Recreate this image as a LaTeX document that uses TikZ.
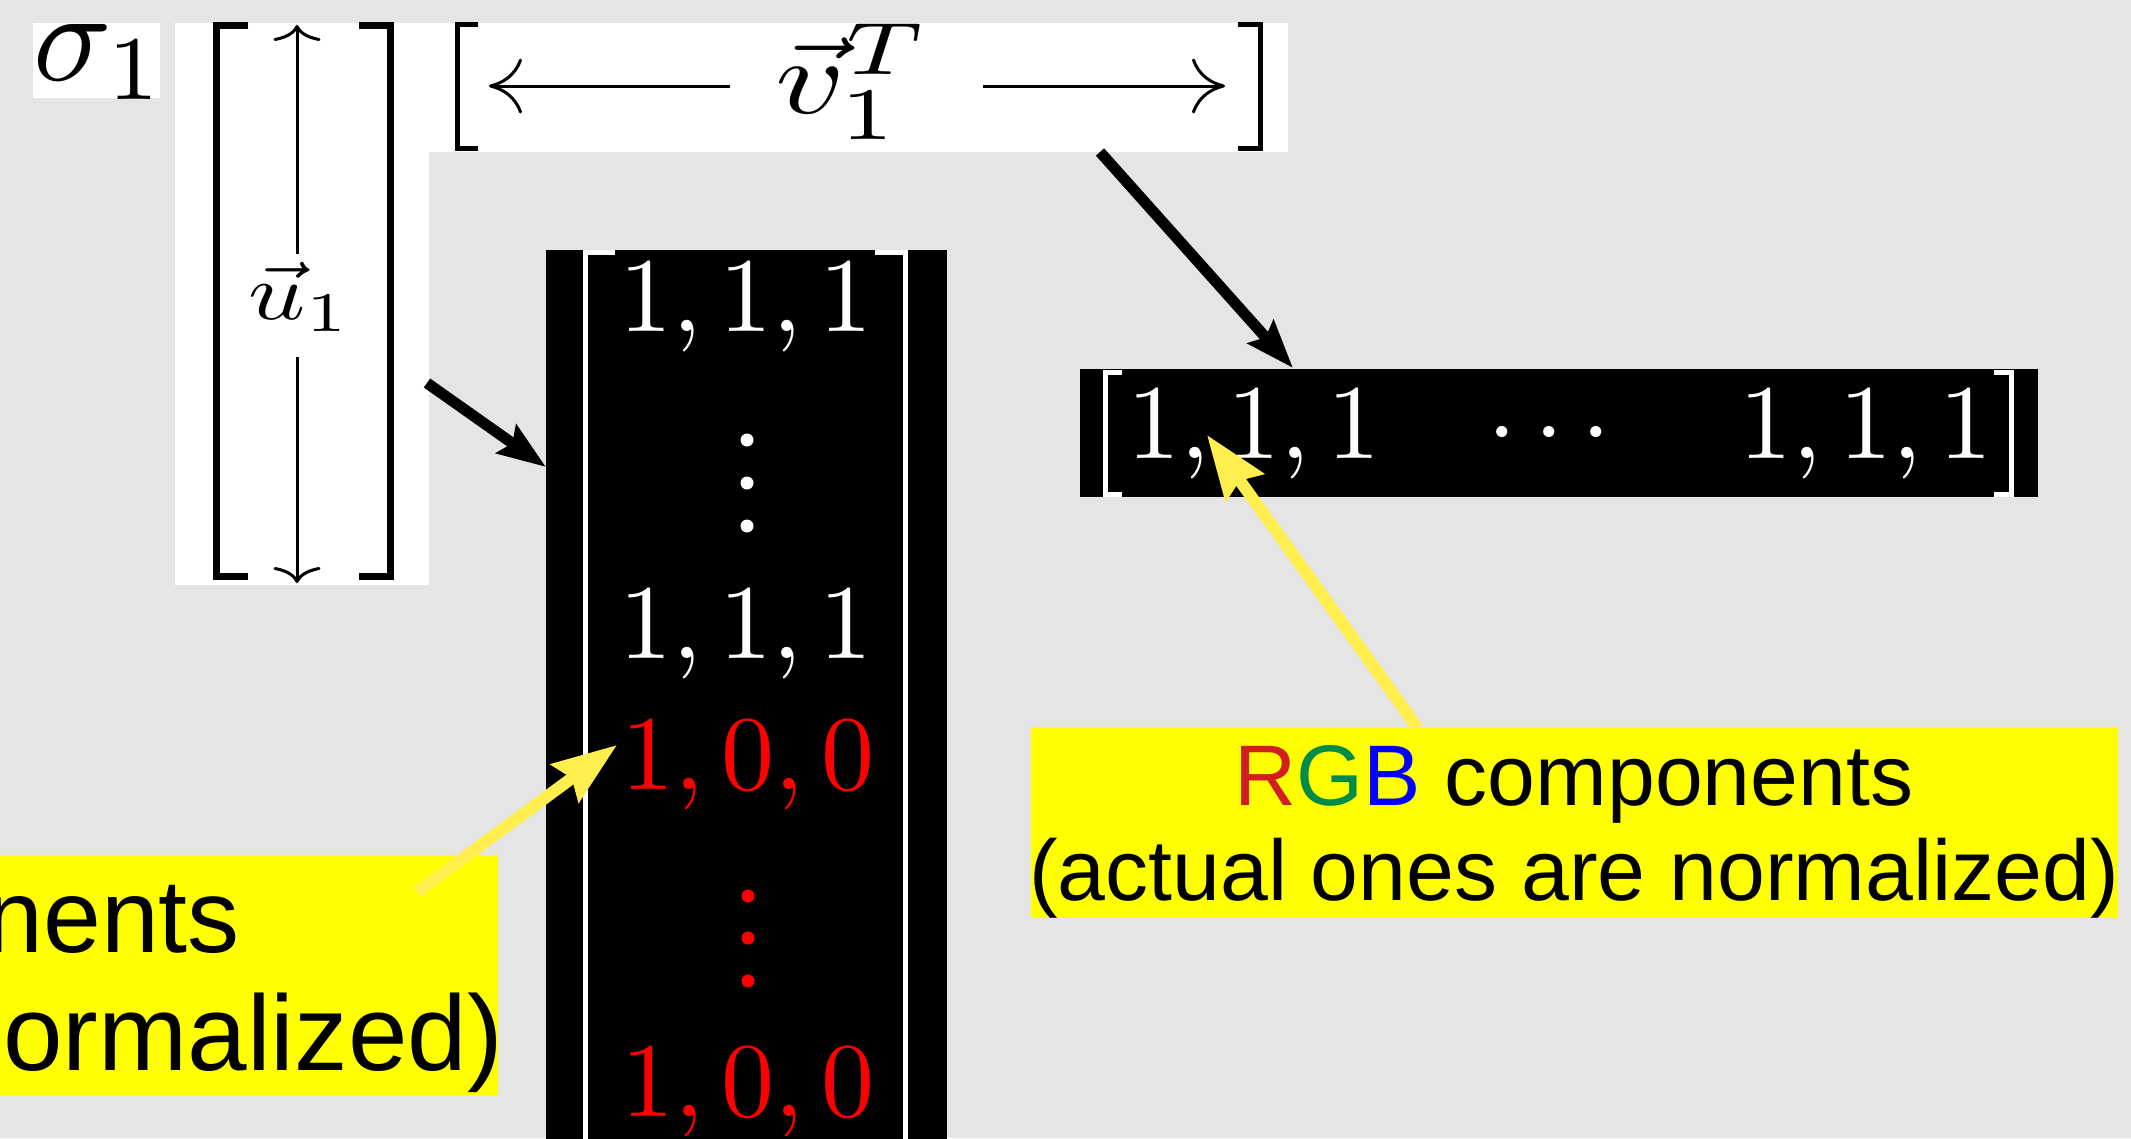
\documentclass[tikz,border=0pt]{standalone}
\usepackage{fontspec}
\newfontfamily\labelfont{Liberation Sans}
\usetikzlibrary{arrows.meta}
\definecolor{bg}{RGB}{229,229,229}
\definecolor{arrowyellow}{RGB}{255,238,77}
\definecolor{labelyellow}{RGB}{255,255,0}
\definecolor{rR}{RGB}{210,30,30}
\definecolor{gG}{RGB}{0,140,70}
\definecolor{bB}{RGB}{0,0,255}
\newcommand{\scaledmath}[3]{\scalebox{#1}[#2]{$#3$}}
\tikzset{
  mathbig/.style={inner sep=0},
  ubr/.style={line width=7pt, line cap=butt, line join=miter},
  vbr/.style={line width=5pt, line cap=butt, line join=miter},
  wbr/.style={white, line width=5pt, line join=miter},
  uarr/.style={line width=3pt, -{Computer Modern Rightarrow[length=16pt,width=47pt,line width=3pt]}},
  varr/.style={line width=3pt, -{Computer Modern Rightarrow[length=33pt,width=55pt,line width=3pt]}},
  blackarr/.style={line width=11pt, -{Stealth[length=48pt,width=34pt,inset=7pt]}},
  yelarr/.style={arrowyellow, line width=12pt, -{Stealth[length=64pt,width=46pt,inset=8pt]}},
  sanslabel/.style={inner sep=0, font=\labelfont\fontsize{86}{95}\selectfont},
  sanslabelL/.style={inner sep=0, font=\labelfont\fontsize{104}{118}\selectfont},
}
\begin{document}
\begin{tikzpicture}[x=1pt,y=-1pt]
\useasboundingbox (0,0) rectangle (2131,1138);
\fill[bg] (0,0) rectangle (2131,1138);
\clip (0,0) rectangle (2131,1138);

% ---- white panels ----
\fill[white] (33,23) rectangle (160,98);
\fill[white] (175,23) -- (1288,23) -- (1288,152) -- (429,152) -- (429,585) -- (175,585) -- cycle;

% sigma_1
\node[mathbig, anchor=base west] (sigma) at (33,80) {\scaledmath{13}{13}{\sigma_1}};

% ---- u_1 column ----
\draw[ubr] (248,25) -- (216,25) -- (216,576) -- (248,576);
\draw[ubr] (359,25) -- (390,25) -- (390,576) -- (359,576);
\node[mathbig, anchor=base] (u1) at (300,319) {\scaledmath{10}{8}{\vec{u}_1}};
\coordinate (uUpFrom) at (297,254);
\coordinate (uUpTo) at (297,25);
\coordinate (uDnFrom) at (297,357);
\coordinate (uDnTo) at (297,583);
\draw[uarr] (uUpFrom) -- (uUpTo);
\draw[uarr] (uDnFrom) -- (uDnTo);

% ---- v_1^T row ----
\draw[vbr] (478,24) -- (457,24) -- (457,148) -- (478,148);
\draw[vbr] (1238,24) -- (1260,24) -- (1260,148) -- (1238,148);
\node[mathbig, anchor=base] (v1) at (853,113) {\scaledmath{13.5}{10.6}{\vec{v}_1^T}};
\coordinate (vLFrom) at (730,86);
\coordinate (vLTo) at (489,86);
\coordinate (vRFrom) at (983,86);
\coordinate (vRTo) at (1225,86);
\draw[varr] (vLFrom) -- (vLTo);
\draw[varr] (vRFrom) -- (vRTo);

% ---- column matrix (black) ----
\node[fill=black, inner sep=0, anchor=north west, minimum width=401, minimum height=900] (colbox) at (546,250) {};
\draw[wbr] (615,252) -- (585,252) -- (585,1160);
\draw[wbr] (875,252) -- (905,252) -- (905,1160);
\node[mathbig, anchor=base, text=white] (c1) at (746,331) {\scaledmath{10.6}{10.6}{1,1,1}};
\foreach \yy in {440,483,526} \fill[white] (747,\yy) circle (6.5);
\node[mathbig, anchor=base, text=white] (c2) at (746,658) {\scaledmath{10.6}{10.6}{1,1,1}};
\node[mathbig, anchor=base, text=red] (c3) at (748,789) {\scaledmath{10.6}{10.6}{1,0,0}};
\foreach \yy in {896,938,981} \fill[red] (748,\yy) circle (6.5);
\node[mathbig, anchor=base, text=red] (c4) at (748,1116) {\scaledmath{10.6}{10.6}{1,0,0}};

% ---- row matrix (black) ----
\node[fill=black, inner sep=0, anchor=north west, minimum width=958, minimum height=128] (rowbox) at (1080,369) {};
\draw[wbr] (1122,372) -- (1105,372) -- (1105,494) -- (1122,494);
\draw[wbr] (1994,372) -- (2011,372) -- (2011,494) -- (1994,494);
\node[mathbig, anchor=base, text=white] (r1) at (1254,458) {\scaledmath{10.6}{10.6}{1,1,1}};
\node[mathbig, anchor=base, text=white] (r2) at (1549,458) {\scaledmath{10.6}{10.6}{\cdots}};
\node[mathbig, anchor=base, text=white] (r3) at (1866,458) {\scaledmath{10.6}{10.6}{1,1,1}};

% ---- black arrows ----
\coordinate (bA1from) at (427,383);
\coordinate (bA2from) at (1100,152);
\draw[blackarr] (bA1from) -- (colbox.west |- 0,467);
\draw[blackarr] (bA2from) -- (1293,368);

% ---- yellow labels ----
\node[fill=labelyellow, inner sep=0, anchor=north west, minimum width=1087, minimum height=191] (labR) at (1031,727) {};
\node[sanslabel, anchor=base] (labR1) at (1574,805) {\textcolor{rR}{R}\textcolor{gG}{G}\textcolor{bB}{B} components};
\node[sanslabel, anchor=base] (labR2) at (1574,900) {(actual ones are normalized)};

\node[fill=labelyellow, inner sep=0, anchor=north west, minimum width=498, minimum height=240] (labL) at (0,855) {};
\node[sanslabelL, anchor=base east] (labL1) at (240,952) {nents};
\node[sanslabelL, anchor=base east, font=\labelfont\fontsize{107}{118}\selectfont] (labL2) at (503,1070) {ormalized)};

% ---- yellow arrows ----
\coordinate (yR) at (1417,727);
\coordinate (yL) at (417,892);
\draw[yelarr] (yR) -- (1207,435);
\draw[yelarr] (yL) -- (617,745);
\end{tikzpicture}
\end{document}
